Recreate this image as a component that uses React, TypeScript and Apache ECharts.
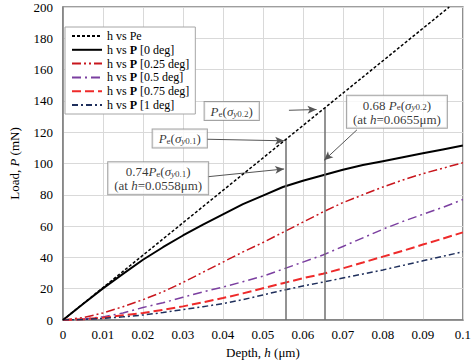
import React, { useEffect, useRef } from 'react';
import * as echarts from 'echarts';

const FONT = '"Liberation Serif", "Times New Roman", serif';

// Depth (µm)
const depth = [0, 0.005, 0.01, 0.015, 0.02, 0.025, 0.03, 0.035, 0.04, 0.045, 0.05, 0.055, 0.06, 0.065, 0.07, 0.075, 0.08, 0.085, 0.09, 0.095, 0.1];
// Elastic load Pe (straight line)
const peDepth = [0, 0.0966];
const peLoad = [0, 200];
// Load P (mN) for each misalignment angle
const p0 = [0, 10.2, 20.2, 29.5, 38.5, 46.5, 54, 61, 67.5, 74, 79.5, 85, 89, 92.5, 96, 99, 101.5, 104, 106.5, 109, 111.5];
const p025 = [0, 1.5, 4.5, 8.5, 13, 18, 24, 30.5, 37, 43.5, 49.5, 56, 62.5, 69, 75, 80, 85, 89.5, 93.5, 97, 100.5];
const p05 = [0, 0.5, 2, 4.5, 8, 11, 14.5, 18, 21, 24.5, 28, 32.5, 37, 41.5, 47, 52.5, 58, 63, 67.5, 72, 77];
const p075 = [0, 0.4, 1.5, 3, 4.5, 6.5, 8.7, 11.3, 14, 17, 20.3, 23.5, 26.7, 29.5, 33, 36.7, 40.5, 44.2, 48.2, 52, 56];
const p1 = [0, 0.3, 1, 2, 3.2, 4.8, 6.7, 8.5, 10.5, 13, 16, 19, 21.7, 24.2, 26.8, 29.4, 32, 34.9, 37.8, 40.7, 43.6];

const seriesNames = ['h vs Pe', 'h vs P [0 deg]', 'h vs P [0.25 deg]', 'h vs P [0.5 deg]', 'h vs P [0.75 deg]', 'h vs P [1 deg]'];

// Marked depths and the elastic load at them
const markDepth = [0.0558, 0.0655];
const markPe = [115.5, 135.5];

const richBase = {
  n: { fontFamily: FONT, fontSize: 13, color: '#000', lineHeight: 14, verticalAlign: 'bottom' },
  i: { fontFamily: FONT, fontSize: 13, color: '#000', fontStyle: 'italic', lineHeight: 14, verticalAlign: 'bottom' },
  s: { fontFamily: FONT, fontSize: 9, color: '#000', lineHeight: 7, verticalAlign: 'bottom' },
  si: { fontFamily: FONT, fontSize: 9, color: '#000', fontStyle: 'italic', lineHeight: 7, verticalAlign: 'bottom' },
};

const boxLabel = (text: string) => ({
  show: true,
  position: 'inside',
  formatter: text,
  backgroundColor: '#fff',
  borderColor: '#8c8c8c',
  borderWidth: 1,
  padding: [2, 6, 2, 6],
  align: 'center',
  rich: richBase,
});

const peSig = (sub: string) => `{i|P}{s|e}{n|(}{i|σ}{si|y}{s|${sub}}{n|)}`;

export default function App() {
  const ref = useRef<HTMLDivElement>(null);
  useEffect(() => {
    const chart = echarts.init(ref.current!, null, { renderer: 'svg' });
    const line = (name: string, vals: number[], color: string, type: any, width: number) => ({
      type: 'line',
      name,
      data: depth.map((d, i) => [d, vals[i]]),
      symbol: 'none',
      lineStyle: { color, width, type },
      itemStyle: { color },
    });
    const arrow = (from: number[], to: number[]) => [
      { coord: from, symbol: 'none' },
      { coord: to, symbol: 'arrow', symbolSize: [6, 9] },
    ];
    const option: any = {
      animation: false,
      grid: { left: 50, right: 8, top: 7, bottom: 44, show: true, borderColor: '#7f7f7f', borderWidth: 1.5 },
      legend: {
        data: seriesNames,
        orient: 'vertical',
        left: 65,
        top: 27,
        backgroundColor: '#fff',
        borderColor: '#a6a6a6',
        borderWidth: 1,
        padding: [3, 6, 3, 6],
        itemWidth: 30,
        itemHeight: 12,
        itemGap: 1.8,
        selectedMode: false,
        itemStyle: { color: 'rgba(0,0,0,0)', borderWidth: 0, opacity: 0 },
        formatter: (name: string) =>
          name.indexOf('P [') >= 0 ? `{a|h vs }{b|P}{a|${name.slice(6)}}` : `{a|${name}}`,
        textStyle: {
          fontFamily: FONT,
          fontSize: 12,
          color: '#000',
          rich: {
            a: { fontFamily: FONT, fontSize: 12, color: '#000' },
            b: { fontFamily: FONT, fontSize: 12, color: '#000', fontWeight: 'bold' },
          },
        },
      },
      xAxis: {
        type: 'value',
        min: 0,
        max: 0.1,
        interval: 0.01,
        name: '{n|Depth, }{i|h}{n| (μm)}',
        nameLocation: 'middle',
        nameGap: 26,
        nameTextStyle: {
          rich: {
            n: { fontFamily: FONT, fontSize: 13, color: '#000' },
            i: { fontFamily: FONT, fontSize: 13, color: '#000', fontStyle: 'italic' },
          },
        },
        axisLine: { show: true, lineStyle: { color: '#7f7f7f', width: 1.5 } },
        axisTick: { show: false },
        axisLabel: {
          fontFamily: FONT,
          fontSize: 13,
          color: '#000',
          margin: 8,
          formatter: (v: number) => (v === 0 ? '0' : String(parseFloat(v.toFixed(3)))),
        },
        splitLine: { show: true, lineStyle: { color: '#d9d9d9', width: 1 } },
      },
      yAxis: {
        type: 'value',
        min: 0,
        max: 200,
        interval: 20,
        name: '{n|Load, }{i|P}{n| (mN)}',
        nameLocation: 'middle',
        nameGap: 42,
        nameTextStyle: {
          rich: {
            n: { fontFamily: FONT, fontSize: 13, color: '#000' },
            i: { fontFamily: FONT, fontSize: 13, color: '#000', fontStyle: 'italic' },
          },
        },
        axisLine: { show: true, lineStyle: { color: '#7f7f7f', width: 1.5 } },
        axisTick: { show: false },
        axisLabel: { fontFamily: FONT, fontSize: 13, color: '#000', margin: 10 },
        splitLine: { show: true, lineStyle: { color: '#d9d9d9', width: 1 } },
      },
      series: [
        {
          type: 'line',
          name: seriesNames[0],
          data: peDepth.map((d, i) => [d, peLoad[i]]),
          symbol: 'none',
          lineStyle: { color: '#000', width: 1.5, type: [3, 2] },
          itemStyle: { color: '#000' },
          z: 5,
        },
        line(seriesNames[1], p0, '#000', 'solid', 2),
        line(seriesNames[2], p025, '#c8161d', [9, 3, 2, 3, 2, 3], 1.5),
        line(seriesNames[3], p05, '#7b3fa0', [9, 4, 2, 4], 1.5),
        line(seriesNames[4], p075, '#ee2a2a', [9, 4], 2),
        line(seriesNames[5], p1, '#1f2f5c', [6, 3, 2, 3], 1.5),
        {
          type: 'scatter',
          name: 'verticals',
          data: [],
          silent: true,
          markLine: {
            silent: true,
            symbol: ['none', 'none'],
            label: { show: false },
            lineStyle: { color: '#6f6f6f', width: 1.5, type: 'solid' },
            data: markDepth.map((h, i) => [{ coord: [h, 0] }, { coord: [h, markPe[i]] }]),
          },
        },
        {
          type: 'scatter',
          name: 'arrows',
          data: [],
          silent: true,
          markLine: {
            silent: true,
            label: { show: false },
            lineStyle: { color: '#555', width: 1, type: 'solid' },
            data: [
              arrow([0.0565, 134], [0.0634, 134.5]),
              arrow([0.036, 115.5], [0.0553, 114.5]),
              arrow([0.036, 91.5], [0.0553, 96.5]),
              arrow([0.0735, 121.5], [0.0653, 102]),
            ],
          },
        },
        {
          type: 'scatter',
          name: 'boxes',
          symbolSize: 0,
          silent: true,
          itemStyle: { color: 'rgba(0,0,0,0)' },
          z: 10,
          data: [
            { value: [0.0422, 133.5], label: boxLabel(peSig('0.2')) },
            { value: [0.0292, 116], label: boxLabel(peSig('0.1')) },
            {
              value: [0.0238, 90.5],
              label: boxLabel(`{n|0.74}${peSig('0.1')}\n{n|(at }{i|h}{n|=0.0558μm)}`),
            },
            {
              value: [0.0835, 133],
              label: boxLabel(`{n|0.68 }${peSig('0.2')}\n{n|(at }{i|h}{n|=0.0655μm)}`),
            },
          ],
        },
      ],
    };
    chart.setOption(option);
    return () => chart.dispose();
  }, []);
  return <div ref={ref} style={{ position: 'fixed', left: 0, top: 0, width: 474, height: 364, background: '#fff' }} />;
}
